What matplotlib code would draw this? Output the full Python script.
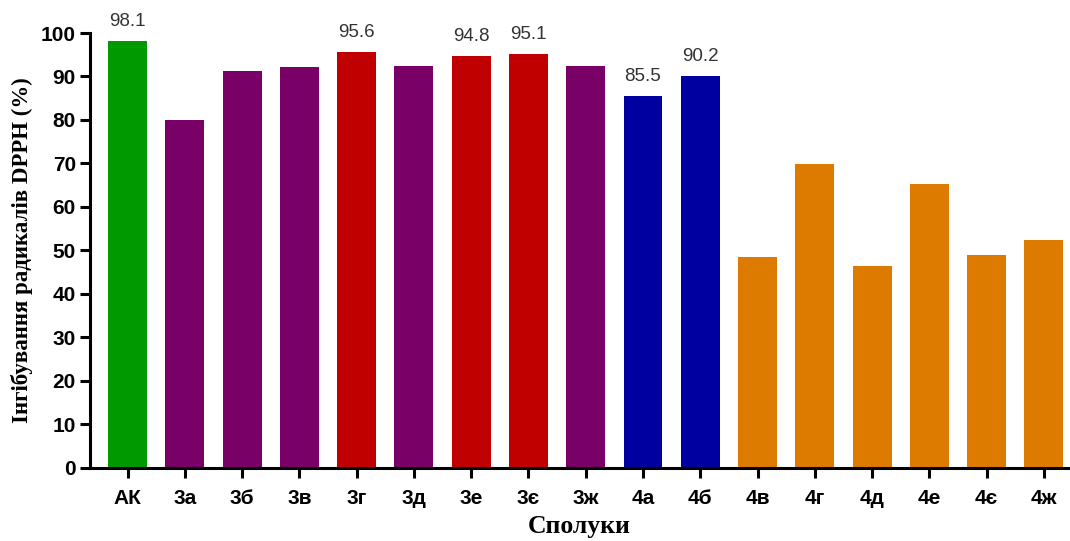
import matplotlib.pyplot as plt
import numpy as np

compounds = ["АК", "3а", "3б", "3в", "3г", "3д", "3е", "3є", "3ж",
             "4а", "4б", "4в", "4г", "4д", "4е", "4є", "4ж"]
inhibition = [98.1, 79.9, 91.3, 92.2, 95.6, 92.4, 94.8, 95.1, 92.5,
              85.5, 90.2, 48.5, 69.8, 46.5, 65.3, 49.0, 52.5]
groups = ["ref", "purple", "purple", "purple", "red", "purple", "red", "red", "purple",
          "blue", "blue", "orange", "orange", "orange", "orange", "orange", "orange"]
labelled = ["АК", "3г", "3е", "3є", "4а", "4б"]

palette = {"ref": "#009900", "purple": "#780066", "red": "#C00000",
           "blue": "#0000A0", "orange": "#DC7B00"}


def main():
	fig = plt.figure(figsize=(10.7, 5.41), dpi=100)
	ax = fig.add_axes([0.084, 0.135, 0.914, 0.804])
	x = np.arange(len(compounds))
	cols = [palette[g] for g in groups]
	ax.bar(x, inhibition, width=0.68, color=cols, edgecolor="none")

	for xi, name, v in zip(x, compounds, inhibition):
		if name in labelled:
			ax.annotate(f"{v:.1f}", (xi, v), xytext=(0, 8), textcoords="offset points",
				ha="center", va="bottom", fontsize=13.5, color="#333333",
				family="Liberation Sans", annotation_clip=False)

	ax.set_ylim(0, 100)
	ax.set_xlim(-0.66, 16.42)
	ax.set_yticks(np.arange(0, 101, 10))
	ax.set_xticks(x)
	ax.set_xticklabels(compounds)
	for s in ["top", "right"]:
		ax.spines[s].set_visible(False)
	for s in ["left", "bottom"]:
		ax.spines[s].set_linewidth(2.2)
	ax.tick_params(axis="both", width=2.2, length=7, direction="out")
	for lab in ax.get_xticklabels() + ax.get_yticklabels():
		lab.set_fontfamily("Liberation Sans")
		lab.set_fontweight("bold")
		lab.set_fontsize(15)
	ax.tick_params(axis="x", pad=8)
	ax.tick_params(axis="y", pad=3)

	ax.set_ylabel("Інгібування радикалів DPPH (%)", family="Liberation Serif",
		fontweight="bold", fontsize=16.5, labelpad=6)
	ax.set_xlabel("Сполуки", family="Liberation Serif", fontweight="bold",
		fontsize=18.5, labelpad=5)
	fig.savefig("out.png", dpi=100)


if __name__ == "__main__":
	main()
